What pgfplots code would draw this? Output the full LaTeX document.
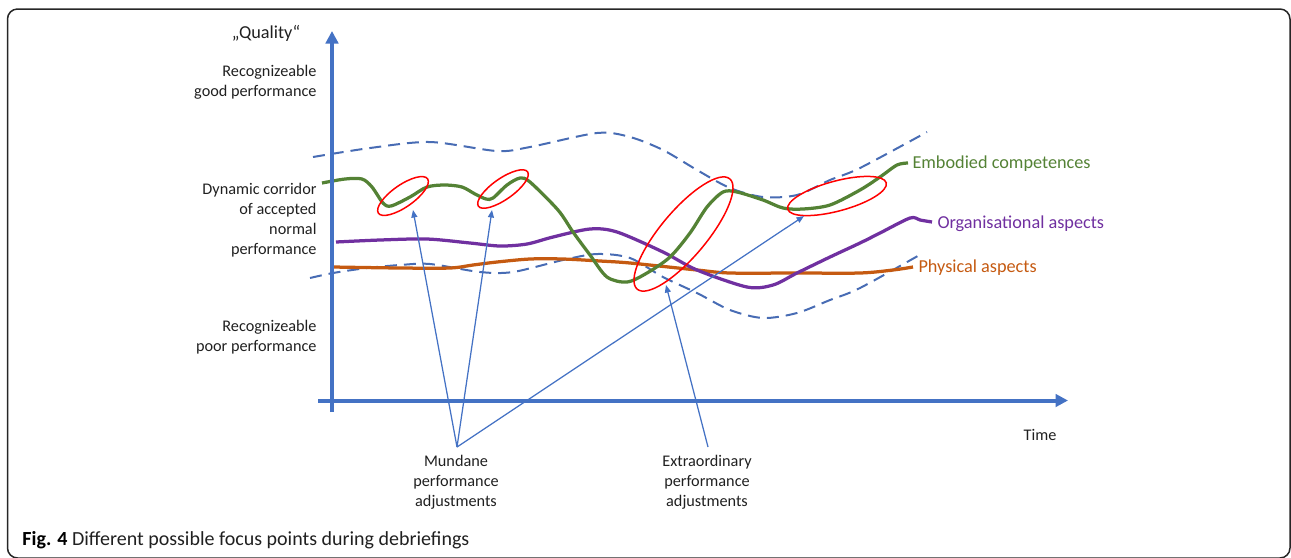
\documentclass[border=0pt]{standalone}
\usepackage{fontspec}
\setmainfont{Carlito}
\usepackage{pgfplots}
\pgfplotsset{compat=1.18}
\usetikzlibrary{arrows.meta}

\definecolor{axblue}{RGB}{68,114,196}
\definecolor{dashblue}{RGB}{72,108,180}
\definecolor{cgreen}{RGB}{84,130,53}
\definecolor{cpurple}{RGB}{112,48,160}
\definecolor{corange}{RGB}{197,90,17}
\definecolor{cred}{RGB}{255,0,0}
\definecolor{txt}{RGB}{32,32,32}

\begin{document}
\begin{tikzpicture}
\useasboundingbox (0,0) rectangle (516.4pt,222.8pt);
\begin{axis}[hide axis, scale only axis, width=516.4pt, height=222.8pt,
    xmin=0, xmax=1291, ymin=0, ymax=557, y dir=reverse, clip=false]

% corridor limits
\addplot[dashblue, line width=0.8pt, dash pattern=on 4.8pt off 2.8pt, smooth] coordinates {
    (313,157) (370,148) (430,142) (497,151) (530,147) (597,133) (630,137) (663,150)
    (697,170) (730,188) (763,197) (797,195) (830,180) (860,168) (927,132)};
\addplot[dashblue, line width=0.8pt, dash pattern=on 4.8pt off 2.8pt, smooth] coordinates {
    (310,278) (333,273) (367,268) (400,265) (430,264) (480,272) (513,272) (563,260)
    (597,254) (630,258) (663,277) (697,293) (730,310) (763,318) (797,313) (830,300)
    (860,288) (923,253)};

% physical aspects
\addplot[corange, line width=1.3pt, smooth] coordinates {
    (333,267) (400,268) (450,268) (473,265) (497,262) (530,259) (563,259) (600,261)
    (630,263) (697,270) (730,273) (797,273) (860,273) (893,270) (913,267)};
% organisational aspects
\addplot[cpurple, line width=1.3pt, smooth] coordinates {
    (336,242) (380,240) (427,239) (470,243) (500,246) (527,244) (553,237) (590,229)
    (617,232) (663,252) (697,270) (747,287) (773,285) (797,273) (830,257) (860,243)
    (880,233) (910,218) (920,220) (932,222)};
% embodied competences
\addplot[cgreen, line width=1.3pt, smooth] coordinates {
    (322,183) (345,179) (362,179) (372,187) (383,203) (391,206) (410,197) (427,187)
    (445,185) (462,187) (475,194) (486,199) (493,198) (507,185) (520,178) (530,182)
    (558,210) (573,232) (590,255) (607,277) (627,282) (647,273) (670,257) (690,233)
    (707,207) (723,192) (737,192) (763,200) (783,208) (803,209) (830,205) (860,190)
    (880,177) (897,165) (908,163)};

% highlighted adjustments
\draw[cred, line width=0.6pt, rotate around={35:(axis cs:403,196)}] (axis cs:403,196) ellipse [x radius=12pt, y radius=4.4pt];
\draw[cred, line width=0.6pt, rotate around={35:(axis cs:503,189)}] (axis cs:503,189) ellipse [x radius=12pt, y radius=4.2pt];
\draw[cred, line width=0.6pt, rotate around={50:(axis cs:683.5,234)}] (axis cs:683.5,234) ellipse [x radius=28.8pt, y radius=9.2pt];
\draw[cred, line width=0.6pt, rotate around={15:(axis cs:837,196)}] (axis cs:837,196) ellipse [x radius=20.4pt, y radius=6pt];

% pointers
\begin{scope}[axblue, line width=0.5pt, -{Triangle[length=3pt,width=2.4pt]}]
\draw (axis cs:457,447) -- (axis cs:413,210);
\draw (axis cs:457,447) -- (axis cs:492,210);
\draw (axis cs:457,447) -- (axis cs:804,216);
\draw (axis cs:708,447) -- (axis cs:666,285);
\end{scope}

% axes
\draw[axblue, line width=1.6pt, -{Triangle[length=5pt,width=5pt]}] (axis cs:332,412) -- (axis cs:332,31);
\draw[axblue, line width=1.6pt, -{Triangle[length=5pt,width=5pt]}] (axis cs:318,400.5) -- (axis cs:1068,400.5);

% labels
\begin{scope}[font=\fontsize{6.5}{8}\selectfont, text=txt]
\node[font=\fontsize{7.3}{9}\selectfont] at (axis cs:266,33) {„Quality“};
\node[anchor=east, align=right, inner sep=0pt] at (axis cs:317,82.5) {Recognizeable\\good performance};
\node[anchor=east, align=right, inner sep=0pt] at (axis cs:317,220) {Dynamic corridor\\of accepted\\normal\\performance};
\node[anchor=east, align=right, inner sep=0pt] at (axis cs:317,337) {Recognizeable\\poor performance};
\node at (axis cs:1040,435) {Time};
\node[align=center] at (axis cs:456,482) {Mundane\\performance\\adjustments};
\node[align=center] at (axis cs:707,482) {Extraordinary\\performance\\adjustments};
\end{scope}
\begin{scope}[font=\fontsize{7.3}{9}\selectfont, inner sep=0pt]
\node[anchor=west, text=cgreen] at (axis cs:912,164) {Embodied competences};
\node[anchor=west, text=cpurple] at (axis cs:937,224) {Organisational aspects};
\node[anchor=west, text=corange] at (axis cs:918,268) {Physical aspects};
\end{scope}

% caption and frame
\node[anchor=base west, inner sep=0pt, font=\fontsize{8}{9}\selectfont, text=txt] at (axis cs:22,545) {\textbf{\color{black}Fig. 4} Different possible focus points during debriefings};
\draw[black!85, line width=0.6pt, rounded corners=4pt] (axis cs:7.5,9) rectangle (axis cs:1290,558);
\end{axis}
\end{tikzpicture}
\end{document}
